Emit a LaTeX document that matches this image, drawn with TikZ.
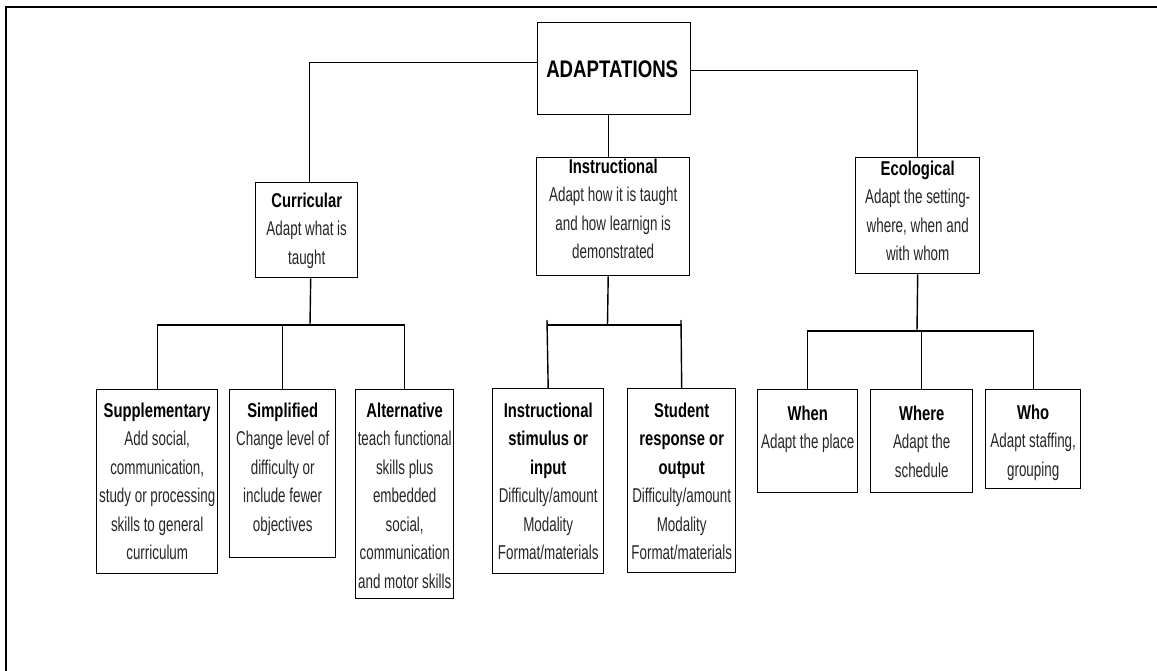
\documentclass[tikz,border=0pt]{standalone}
\usepackage{fontspec}
\setmainfont{Liberation Sans}[FakeStretch=0.67, BoldFeatures={FakeStretch=0.74}]
\begin{document}
\begin{tikzpicture}[x=1pt,y=-1pt,
  box/.style={draw, line width=1.4pt, fill=white, inner sep=0pt, anchor=north west},
  lbl/.style={anchor=north, inner sep=0pt, align=center, font=\fontsize{20}{28.5}\selectfont, text=black!85},
  wire/.style={line width=1.4pt},
  frame/.style={line width=2pt}]
\useasboundingbox (0,0) rectangle (1157,671);
% outer frame (top and left edges)
\coordinate (fa) at (6,671);
\coordinate (fb) at (6,7);
\coordinate (fc) at (1157,7);
\draw[frame] (fa) -- (fb) -- (fc);

% boxes
\node[box, minimum width=153pt, minimum height=92pt] (top) at (537,22) {};
\node[font=\fontsize{24}{28}\selectfont\bfseries, inner sep=0pt, xscale=1.05] (toptxt) at ([xshift=-2pt,yshift=-1pt]top.center) {ADAPTATIONS};

\node[box, minimum width=102pt, minimum height=95pt] (cur) at (255,182) {};
\node[box, minimum width=153pt, minimum height=118pt] (ins) at (536,157) {};
\node[box, minimum width=124pt, minimum height=116pt] (eco) at (855,157) {};

\node[box, minimum width=121pt, minimum height=184pt] (sup) at (96,389) {};
\node[box, minimum width=106pt, minimum height=168pt] (sim) at (229,389) {};
\node[box, minimum width=98pt, minimum height=209pt] (alt) at (355,389) {};

\node[box, minimum width=111pt, minimum height=185pt] (isi) at (492,388) {};
\node[box, minimum width=108pt, minimum height=184pt] (sro) at (627,388) {};

\node[box, minimum width=100pt, minimum height=103pt] (when) at (757,389) {};
\node[box, minimum width=102pt, minimum height=103pt] (where) at (870,389) {};
\node[box, minimum width=95pt, minimum height=99pt] (who) at (985,389) {};

% texts
\node[lbl] (curt) at ([yshift=-10.5pt]cur.north) {\textbf{\color{black}Curricular}\\Adapt what is\\taught};
\node[lbl] (inst) at ([yshift=-1.5pt]ins.north) {\textbf{\color{black}Instructional}\\Adapt how it is taught\\and how learnign is\\demonstrated};
\node[lbl] (ecot) at ([yshift=-3.5pt]eco.north) {\textbf{\color{black}Ecological}\\Adapt the setting-\\where, when and\\with whom};

\node[lbl] (supt) at ([yshift=-13.5pt]sup.north) {\textbf{\color{black}Supplementary}\\Add social,\\communication,\\study or processing\\skills to general\\curriculum};
\node[lbl] (simt) at ([yshift=-13.5pt]sim.north) {\textbf{\color{black}Simplified}\\Change level of\\difficulty or\\include fewer\\objectives};
\node[lbl] (altt) at ([yshift=-13.5pt]alt.north) {\textbf{\color{black}Alternative}\\teach functional\\skills plus\\embedded\\social,\\communication\\and motor skills};

\node[lbl] (isit) at ([yshift=-14.5pt]isi.north) {\textbf{\color{black}Instructional}\\\textbf{\color{black}stimulus or}\\\textbf{\color{black}input}\\Difficulty/amount\\Modality\\Format/materials};
\node[lbl] (srot) at ([yshift=-14.5pt]sro.north) {\textbf{\color{black}Student}\\\textbf{\color{black}response or}\\\textbf{\color{black}output}\\Difficulty/amount\\Modality\\Format/materials};

\node[lbl] (whent) at ([yshift=-16.5pt]when.north) {\textbf{\color{black}When}\\Adapt the place};
\node[lbl] (wheret) at ([yshift=-16.5pt]where.north) {\textbf{\color{black}Where}\\Adapt the\\schedule};
\node[lbl] (whot) at ([yshift=-15.5pt]who.north) {\textbf{\color{black}Who}\\Adapt staffing,\\grouping};

% connectors from the top
\draw[wire] ([yshift=6pt]top.west) -| ([xshift=3pt]cur.north);
\draw[wire] ([yshift=-2pt]top.east) -| (eco.north);
\draw[wire] ([xshift=-6pt]top.south) -- ([xshift=-5pt]ins.north);

% curricular bus
\coordinate (cbus) at (310,325);
\draw[wire] ([xshift=4pt]cur.south) -- (cbus);
\draw[wire] (sup.north) |- (cbus) -| (alt.north);
\draw[wire] (sim.north |- cbus) -- (sim.north);

% instructional bus
\coordinate (ibus) at (607.5,325);
\coordinate (itl) at (547,320);
\coordinate (itr) at (681,320);
\draw[wire] ([xshift=-5pt]ins.south) -- (ibus);
\draw[wire] (isi.north) -- (itl);
\draw[wire] (sro.north) -- (itr);
\draw[wire] (isi.north |- ibus) -- (sro.north |- ibus);

% ecological bus
\coordinate (ebus) at (917,331);
\draw[wire] (eco.south) -- (ebus);
\draw[wire] (when.north) |- (ebus) -| (who.north);
\draw[wire] (where.north |- ebus) -- (where.north);
\end{tikzpicture}
\end{document}
